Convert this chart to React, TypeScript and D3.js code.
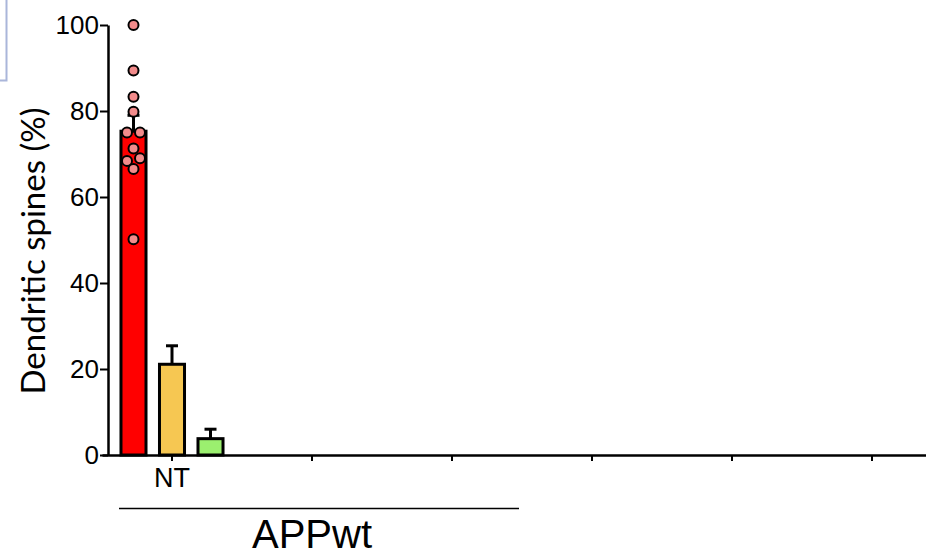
import { useEffect, useRef } from 'react';
import * as d3 from 'd3';

// groups along the x axis (only the first one holds data in this crop)
const groupIds = ['g1', 'g2', 'g3', 'g4', 'g5', 'g6'];
const groupLabels = ['NT', '', '', '', '', ''];

// three bars per group
const seriesIds = ['s1', 's2', 's3'];
const seriesColors = ['#ff0000', '#f6c752', '#9bef6f'];
const means = [75.3, 21.1, 3.8];
const sems = [3.7, 4.3, 2.2];

// individual points plotted over the first bar
const redPoints = [100, 89.4, 83.3, 79.8, 75.0, 75.0, 71.3, 69.0, 68.4, 66.5, 50.2];

const yTicks = [0, 20, 40, 60, 80, 100];
const yLabel = 'Dendritic spines (%)';
const bracketLabel = 'APPwt';

const W = 926;
const H = 557;

const App = () => {
  const svgRef = useRef(null);

  useEffect(() => {
    const svg = d3.select(svgRef.current);
    svg.selectAll('*').remove();

    const y = d3.scaleLinear().domain([0, 100]).range([455, 25]);
    const x = d3.scaleBand().domain(groupIds).range([102, 102 + 140 * groupIds.length]);
    const xs = d3.scaleBand().domain(seriesIds).range([0, x.bandwidth()])
      .paddingInner(0.35).paddingOuter(0.493);

    // light frame remnant top-left
    svg.append('path')
      .attr('d', 'M6.5,0 V80.5 H0')
      .attr('fill', 'none')
      .attr('stroke', '#aab6da')
      .attr('stroke-width', 2);

    // bars (only first group)
    const g0 = x(groupIds[0]);
    seriesIds.forEach((s, i) => {
      const bx = g0 + xs(s);
      const cx = bx + xs.bandwidth() / 2;
      // error bar (up only)
      svg.append('line')
        .attr('x1', cx).attr('x2', cx)
        .attr('y1', y(means[i])).attr('y2', y(means[i] + sems[i]))
        .attr('stroke', '#000').attr('stroke-width', 3);
      svg.append('line')
        .attr('x1', cx - 6).attr('x2', cx + 6)
        .attr('y1', y(means[i] + sems[i])).attr('y2', y(means[i] + sems[i]))
        .attr('stroke', '#000').attr('stroke-width', 3);
      svg.append('rect')
        .attr('x', bx)
        .attr('y', y(means[i]))
        .attr('width', xs.bandwidth())
        .attr('height', y(0) - y(means[i]))
        .attr('fill', seriesColors[i])
        .attr('stroke', '#000')
        .attr('stroke-width', 3);
    });

    // scatter points, spread in rows of similar value
    const cx0 = g0 + xs(seriesIds[0]) + xs.bandwidth() / 2;
    const sorted = [...redPoints].sort((a, b) => b - a);
    const rows = [];
    sorted.forEach(v => {
      const last = rows[rows.length - 1];
      if (last && Math.abs(y(v) - y(last[0])) < 8) last.push(v);
      else rows.push([v]);
    });
    const dots = [];
    rows.forEach(row => {
      const r = [...row].sort((a, b) => a - b);
      r.forEach((v, i) => dots.push({ v, dx: (i - (r.length - 1) / 2) * 13 }));
    });
    svg.append('g')
      .selectAll('circle')
      .data(dots)
      .enter()
      .append('circle')
      .attr('cx', d => cx0 + d.dx)
      .attr('cy', d => y(d.v))
      .attr('r', 5)
      .attr('fill', '#f28b8b')
      .attr('stroke', '#000')
      .attr('stroke-width', 2);

    // x axis
    const xAxis = svg.append('g')
      .attr('transform', `translate(0,${y(0)})`)
      .call(d3.axisBottom(x).tickSize(6).tickSizeOuter(0).tickPadding(7)
        .tickFormat((d, i) => groupLabels[i]));
    xAxis.select('.domain').attr('stroke-width', 2.5);
    xAxis.selectAll('.tick line').attr('stroke-width', 2);
    xAxis.selectAll('text')
      .attr('font-family', 'Liberation Sans, Arial, sans-serif')
      .attr('font-size', 27)
      .attr('fill', '#000');

    // y axis
    const yAxis = svg.append('g')
      .attr('transform', 'translate(108,0)')
      .call(d3.axisLeft(y).tickValues(yTicks).tickSize(8).tickSizeOuter(0).tickPadding(1));
    yAxis.select('.domain').attr('stroke-width', 2.5);
    yAxis.selectAll('.tick line').attr('stroke-width', 2);
    yAxis.selectAll('text')
      .attr('font-family', 'Liberation Sans, Arial, sans-serif')
      .attr('font-size', 26)
      .attr('fill', '#000');

    // y label
    svg.append('text')
      .attr('transform', 'translate(45,251) rotate(-90)')
      .attr('text-anchor', 'middle')
      .attr('font-family', 'Lato, sans-serif')
      .attr('font-size', 33)
      .attr('fill', '#000')
      .text(yLabel);

    // group bracket
    svg.append('line')
      .attr('x1', x(groupIds[0]) + 17)
      .attr('x2', x(groupIds[2]) + x.bandwidth() - 3)
      .attr('y1', 508.5).attr('y2', 508.5)
      .attr('stroke', '#000').attr('stroke-width', 1.5);
    svg.append('text')
      .attr('x', x(groupIds[1]) + x.bandwidth() / 2)
      .attr('y', 548)
      .attr('text-anchor', 'middle')
      .attr('font-family', 'Liberation Sans, Arial, sans-serif')
      .attr('font-size', 40)
      .attr('fill', '#000')
      .text(bracketLabel);
  }, []);

  return (
    <svg ref={svgRef} width={W} height={H}
      style={{ position: 'absolute', left: 0, top: 0, background: '#fff' }} />
  );
};

export default App;
